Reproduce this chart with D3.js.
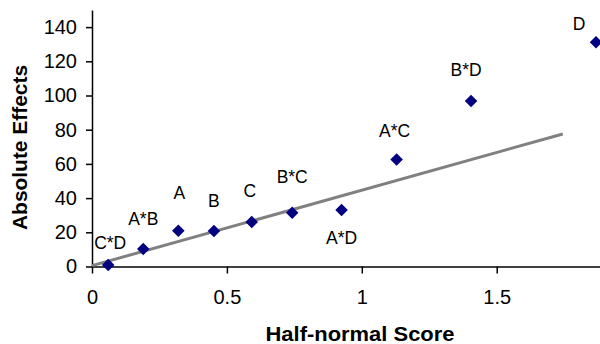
<!DOCTYPE html>
<html>
<head>
<meta charset="utf-8">
<script src="https://cdn.jsdelivr.net/npm/d3@7"></script>
<style>
  body { margin: 0; background: #fff; }
  svg { display: block; font-family: "Liberation Sans", Arial, sans-serif; }
  .axis path, .axis line { stroke: #000; stroke-width: 1.5; }
  .axis text { font-size: 20px; fill: #000; }
</style>
</head>
<body>
<svg id="chart" width="600" height="344"></svg>
<script>
// effect names, half-normal scores, absolute effects
var effects = ["C*D", "A*B", "A", "B", "C", "B*C", "A*D", "A*C", "B*D", "D"];
var scores = [0.060, 0.190, 0.320, 0.452, 0.592, 0.742, 0.925, 1.129, 1.405, 1.868];
var absEffects = [0.9, 10.2, 20.9, 20.7, 26.0, 31.4, 33.0, 62.6, 96.8, 131.2];

// fitted reference line (two ends)
var lineX = [0, 1.745];
var lineY = [0.5, 77.5];

var xTicks = [0, 0.5, 1, 1.5];
var yTicks = [0, 20, 40, 60, 80, 100, 120, 140];

// label nudges in pixels (dx, dy) from each point
var labelDx = [2, 0, 1, 0, -2, 0, 0, -2, -5, -17];
var labelDy = [-22, -30, -38, -30, -31, -36, 28, -29, -31, -18];

var svg = d3.select("#chart");

var x = d3.scaleLinear().domain([0, 2]).range([92, 631.6]);
var y = d3.scaleLinear().domain([0, 150]).range([266.5, 10]);

svg.append("g")
    .attr("class", "axis")
    .attr("transform", "translate(0,266.5)")
    .call(d3.axisBottom(x).tickValues(xTicks).tickSize(7).tickPadding(16)
        .tickSizeOuter(0).tickFormat(d3.format("")));

svg.append("g")
    .attr("class", "axis")
    .attr("transform", "translate(92,0)")
    .call(d3.axisLeft(y).tickValues(yTicks).tickSize(6).tickPadding(9).tickSizeOuter(0));

// reference line
var pts = lineX.map(function(d, i) { return [d, lineY[i]]; });
svg.append("path")
    .datum(pts)
    .attr("d", d3.line().x(function(d) { return x(d[0]); }).y(function(d) { return y(d[1]); }))
    .attr("stroke", "#808080")
    .attr("stroke-width", 3)
    .attr("fill", "none");

// diamonds
var diamond = d3.symbol().type(d3.symbolDiamond2).size(100);
svg.selectAll(".pt")
    .data(effects)
    .enter().append("path")
    .attr("class", "pt")
    .attr("d", diamond)
    .attr("transform", function(d, i) {
        return "translate(" + x(scores[i]) + "," + y(absEffects[i]) + ")";
    })
    .attr("fill", "#000080");

// labels
svg.selectAll(".lbl")
    .data(effects)
    .enter().append("text")
    .attr("class", "lbl")
    .attr("x", function(d, i) { return x(scores[i]) + labelDx[i]; })
    .attr("y", function(d, i) { return y(absEffects[i]) + labelDy[i]; })
    .attr("dy", "0.35em")
    .attr("text-anchor", "middle")
    .style("font-size", "17.5px")
    .text(function(d) { return d; });

// axis titles
svg.append("text")
    .attr("x", 360)
    .attr("y", 340.5)
    .attr("text-anchor", "middle")
    .attr("textLength", 189)
    .attr("lengthAdjust", "spacingAndGlyphs")
    .style("font-size", "20px")
    .style("font-weight", "bold")
    .text("Half-normal Score");

svg.append("text")
    .attr("transform", "translate(27,147.5) rotate(-90)")
    .attr("text-anchor", "middle")
    .attr("textLength", 165)
    .attr("lengthAdjust", "spacingAndGlyphs")
    .style("font-size", "20px")
    .style("font-weight", "bold")
    .text("Absolute Effects");
</script>
</body>
</html>
